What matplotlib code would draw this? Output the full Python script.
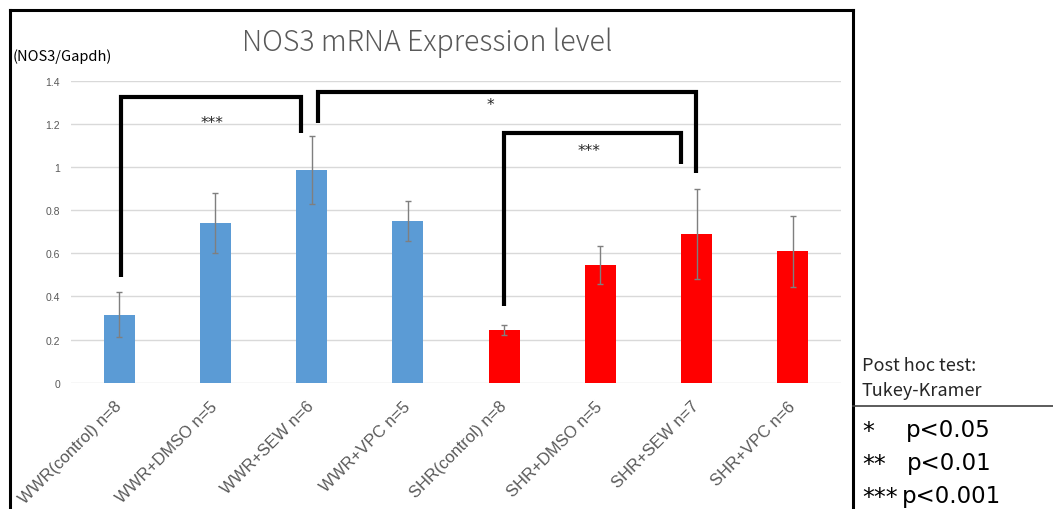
import matplotlib
matplotlib.use("Agg")
import matplotlib.pyplot as plt
from matplotlib.lines import Line2D

categories = ["WWR(control) n=8", "WWR+DMSO n=5", "WWR+SEW n=6", "WWR+VPC n=5",
              "SHR(control) n=8", "SHR+DMSO n=5", "SHR+SEW n=7", "SHR+VPC n=6"]
means = [0.315, 0.74, 0.985, 0.75, 0.245, 0.545, 0.69, 0.61]
errors = [0.105, 0.14, 0.158, 0.093, 0.022, 0.087, 0.21, 0.165]
bar_colors = ["#5B9BD5"] * 4 + ["#FF0000"] * 4
yticks = [0, 0.2, 0.4, 0.6, 0.8, 1, 1.2, 1.4]
ytick_labels = ["0", "0.2", "0.4", "0.6", "0.8", "1", "1.2", "1.4"]

# significance brackets: (x_left, y_left_bottom, x_right, y_right_bottom, y_top, label, label_x, label_y)
brackets = [
    (0.02, 0.492, 1.885, 1.158, 1.324, "***", 0.97, 1.226),
    (2.07, 1.204, 5.99, 0.973, 1.351, "*", 3.86, 1.31),
    (4.00, 0.354, 5.835, 1.015, 1.158, "***", 4.88, 1.097),
]

legend_title = ["Post hoc test:", "Tukey-Kramer"]
legend_stars = ["*", "**", "***"]
legend_p = ["p<0.05", "p<0.01", "p<0.001"]

W, H = 1053, 510
fig = plt.figure(figsize=(W / 100, H / 100), dpi=100)
ax = fig.add_axes([71 / W, 1 - 383.6 / H, (841 - 71) / W, (383.6 - 82) / H])

x = list(range(len(categories)))
ax.bar(x, means, width=0.32, color=bar_colors, zorder=3)
ax.errorbar(x, means, yerr=errors, fmt="none", ecolor="#7F7F7F",
            elinewidth=1, capsize=2.5, capthick=1, zorder=4)

ax.set_xlim(-0.5, 7.5)
ax.set_ylim(0, 1.4)
ax.set_yticks(yticks)
ax.set_yticklabels(ytick_labels, fontsize=7.5, color="#595959", family="Liberation Sans")
ax.set_xticks(x)
ax.set_xticklabels(categories, rotation=45, ha="right", va="center",
                   rotation_mode="anchor", fontsize=12, color="#595959",
                   family="Liberation Sans")
ax.tick_params(axis="both", length=0)
ax.tick_params(axis="x", pad=15)
ax.tick_params(axis="y", pad=8)
for s in ax.spines.values():
    s.set_visible(False)
ax.grid(axis="y", color="#D9D9D9", linewidth=1, zorder=0)
ax.set_axisbelow(True)

fam = ["Noto Sans CJK JP", "DejaVu Sans"]
for (xl, yl, xr, yr, yt, lab, lx, ly) in brackets:
    ax.plot([xl, xl, xr, xr], [yl, yt, yt, yr], color="black", linewidth=3,
            solid_joinstyle="miter", solid_capstyle="butt", clip_on=False, zorder=5)
    ax.text(lx, ly - 0.04, lab, ha="center", va="baseline", fontsize=11, color="#262626",
            family="DejaVu Sans")

# title and unit label
fig.text(427 / W, 1 - 43 / H, "NOS3 mRNA Expression level", ha="center", va="center",
         fontsize=20.5, color="#595959", family=fam, fontweight="light")
fig.text(13 / W, 1 - 57 / H, "(NOS3/Gapdh)", ha="left", va="center", fontsize=10.5,
         color="black", family=fam)

# chart border
def fx(px):
    return px / W

def fy(py):
    return 1 - py / H

fig.add_artist(Line2D([fx(10), fx(853)], [fy(11), fy(11)], color="black", linewidth=2.2))
fig.add_artist(Line2D([fx(10), fx(10)], [fy(11), fy(512)], color="black", linewidth=2.2))
fig.add_artist(Line2D([fx(853), fx(853)], [fy(11), fy(512)], color="black", linewidth=2.2))
fig.add_artist(Line2D([fx(853), fx(1053)], [fy(407), fy(407)], color="#404040", linewidth=1.2))

# legend panel
for i, t in enumerate(legend_title):
    fig.text(fx(862), fy(371 + 25 * i), t, ha="left", va="baseline", fontsize=13,
             color="#262626", family=fam)
p_x = [906, 907, 902]
for i, (s, p) in enumerate(zip(legend_stars, legend_p)):
    base = 437 + 33 * i
    fig.text(fx(862), fy(base + 2), s, ha="left", va="baseline", fontsize=17,
             color="black", family="DejaVu Sans")
    fig.text(fx(p_x[i]), fy(base), p, ha="left", va="baseline", fontsize=16.5,
             color="black", family="DejaVu Sans")

fig.savefig("out.png", dpi=100)
